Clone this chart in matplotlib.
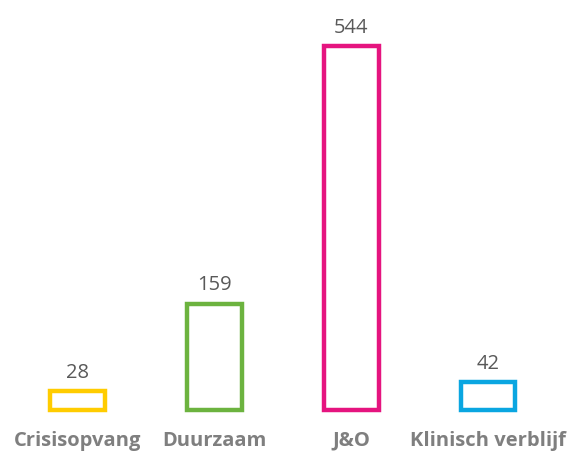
import matplotlib
matplotlib.use("Agg")
import matplotlib.pyplot as plt

categories = ["Crisisopvang", "Duurzaam", "J&O", "Klinisch verblijf"]
values = [28, 159, 544, 42]
colors = ["#FFCC00", "#6CB33F", "#E5147F", "#0AA6E1"]

plt.rcParams["font.family"] = ["Open Sans", "DejaVu Sans"]

fig = plt.figure(figsize=(5.75, 4.55), dpi=100)
ax = fig.add_axes([0.0165, 0.099, 0.951, 0.882])

x = list(range(len(categories)))
bars = ax.bar(x, values, width=0.4, facecolor="none", edgecolor=colors, linewidth=3.2)
for b in bars:
    b.set_clip_on(False)

for xi, v in zip(x, values):
    ax.annotate(str(v), (xi, v), xytext=(0, 6), textcoords="offset points",
                ha="center", va="bottom", fontsize=14.5, color="#595959")

ax.set_xlim(-0.5, 3.5)
ax.set_ylim(0, 600)
ax.set_xticks(x)
ax.set_xticklabels(categories, fontsize=14.5, fontweight="bold", color="#7F7F7F")
ax.tick_params(axis="x", length=0, pad=15)
ax.set_yticks([])
for s in ax.spines.values():
    s.set_visible(False)

fig.savefig("out.png", dpi=100)
